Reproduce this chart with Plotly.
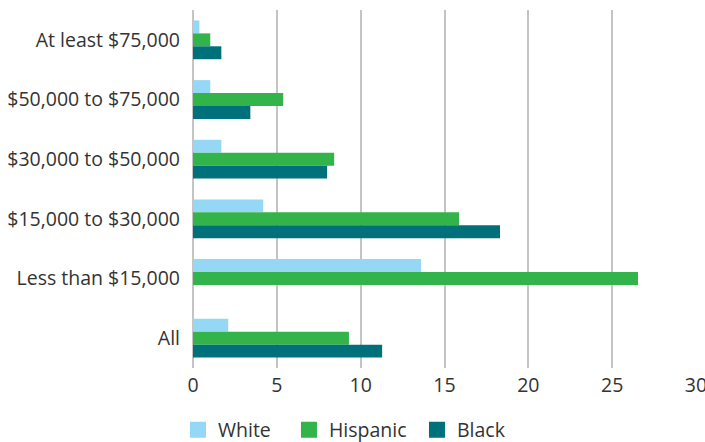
import plotly.graph_objects as go

categories = ["At least $75,000", "$50,000 to $75,000", "$30,000 to $50,000",
              "$15,000 to $30,000", "Less than $15,000", "All"]
white = [0.38, 1.03, 1.69, 4.19, 13.6, 2.1]
hispanic = [1.03, 5.38, 8.42, 15.87, 26.54, 9.3]
black = [1.69, 3.42, 8.0, 18.31, None, 11.28]
x_ticks = [0, 5, 10, 15, 20, 25, 30]

series = [("White", white, "#94d8f5"), ("Hispanic", hispanic, "#33b44a"), ("Black", black, "#00707a")]
legend_ids = ["legend", "legend2", "legend3"]
legend_x = [-0.0298, 0.1908, 0.4453]

font = dict(family="Open Sans", size=19.5, color="#333333")

fig = go.Figure()
for name, vals, color in series:
    fig.add_trace(go.Bar(y=categories, x=vals, name=name, orientation="h", showlegend=False,
                         marker=dict(color=color, line=dict(width=0))))
# legend entries with larger square swatches, each in its own legend box
for (name, vals, color), lid in zip(series, legend_ids):
    fig.add_trace(go.Scatter(x=[None], y=[None], mode="markers", name=name, legend=lid,
                             marker=dict(symbol="square", size=16, color=color)))

legend_common = dict(orientation="h", xanchor="left", yref="container", y=0.027,
                     yanchor="middle", font=font, itemsizing="trace", bgcolor="rgba(0,0,0,0)")
fig.update_layout(
    width=705, height=442,
    margin=dict(l=193, r=9, t=10, b=74, autoexpand=False),
    paper_bgcolor="white", plot_bgcolor="white",
    barmode="group", bargap=0.35, bargroupgap=0,
    font=font,
    xaxis=dict(range=[0, 30], tickvals=x_ticks, showgrid=True, gridcolor="#c4c4c4", gridwidth=2,
               zeroline=True, zerolinecolor="#c4c4c4", zerolinewidth=2, showline=False,
               ticks="", ticklabelstandoff=3, tickfont=font, ticklabeloverflow="allow",
               automargin=False),
    yaxis=dict(categoryorder="array", categoryarray=categories, autorange="reversed",
               showgrid=False, zeroline=False, showline=False, ticks="",
               ticklabelstandoff=12, tickfont=font, automargin=False),
    legend=dict(x=legend_x[0], **legend_common),
    legend2=dict(x=legend_x[1], **legend_common),
    legend3=dict(x=legend_x[2], **legend_common),
    showlegend=True,
)
fig.write_html("out.html")
